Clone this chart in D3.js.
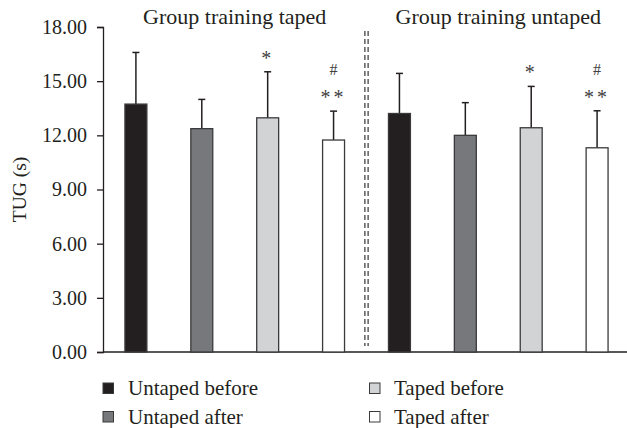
<!DOCTYPE html>
<meta charset="utf-8">
<body style="margin:0;background:#fff">
<script src="https://d3js.org/d3.v7.min.js"></script>
<script>

// data
var groups = ["Group training taped", "Group training untaped"];
var series = ["Untaped before", "Untaped after", "Taped before", "Taped after"];
var means  = [13.73, 12.37, 12.97, 11.74, 13.21, 12.00, 12.42, 11.31];
var errs   = [2.86, 1.62, 2.55, 1.60, 2.22, 1.81, 2.29, 2.05];
var marks  = [["", ""], ["", ""], ["*", ""], ["**", "#"], ["", ""], ["", ""], ["*", ""], ["**", "#"]];
var yTicks = [0, 3, 6, 9, 12, 15, 18];

var fills = ["#231f20", "#77787b", "#d1d3d4", "#ffffff"];
var font = "'Liberation Serif', 'DejaVu Serif', serif";

var width = 627, height = 428;
var svg = d3.select("body").append("svg")
    .attr("width", width)
    .attr("height", height)
    .style("font-family", font);

var bars = means.map(function(m, i) {
  return {id: i, mean: m, err: errs[i], s: i % 4, mark: marks[i]};
});

// scales
var x = d3.scaleBand()
    .domain(bars.map(function(d) { return d.id; }))
    .range([103, 630])
    .paddingInner(0.667)
    .paddingOuter(0.333);

var y = d3.scaleLinear()
    .domain([0, 18])
    .range([352, 27]);

// y axis
var yAxis = svg.append("g")
    .attr("transform", "translate(103,0)")
    .call(d3.axisLeft(y).tickValues(yTicks).tickSize(6).tickPadding(10)
      .tickFormat(d3.format(".2f")));
yAxis.select(".domain").attr("stroke", "#231f20").attr("stroke-width", 1.3);
yAxis.selectAll(".tick line").attr("stroke", "#231f20").attr("stroke-width", 1.3);
yAxis.selectAll(".tick text")
    .attr("fill", "#231f20")
    .style("font-size", "20px")
    .style("font-family", font);

// x axis line
svg.append("line")
    .attr("x1", 103).attr("x2", 627)
    .attr("y1", y(0)).attr("y2", y(0))
    .attr("stroke", "#231f20").attr("stroke-width", 1.3);

// y label
svg.append("text")
    .attr("transform", "translate(26," + y(9) + ") rotate(-90)")
    .attr("text-anchor", "middle")
    .attr("fill", "#231f20")
    .style("font-size", "19.5px")
    .text("TUG (s)");

// error bars
var eb = svg.append("g").selectAll("g")
    .data(bars)
  .enter().append("g")
    .attr("stroke", "#231f20")
    .attr("stroke-width", 1.5);
eb.append("line")
    .attr("x1", function(d) { return x(d.id) + x.bandwidth() / 2; })
    .attr("x2", function(d) { return x(d.id) + x.bandwidth() / 2; })
    .attr("y1", function(d) { return y(d.mean); })
    .attr("y2", function(d) { return y(d.mean + d.err); });
eb.append("line")
    .attr("x1", function(d) { return x(d.id) + x.bandwidth() / 2 - 3.5; })
    .attr("x2", function(d) { return x(d.id) + x.bandwidth() / 2 + 3.5; })
    .attr("y1", function(d) { return y(d.mean + d.err); })
    .attr("y2", function(d) { return y(d.mean + d.err); });

// bars
svg.append("g").selectAll("rect")
    .data(bars)
  .enter().append("rect")
    .attr("x", function(d) { return x(d.id); })
    .attr("y", function(d) { return y(d.mean); })
    .attr("width", x.bandwidth())
    .attr("height", function(d) { return y(0) - y(d.mean); })
    .attr("fill", function(d) { return fills[d.s]; })
    .attr("stroke", "#3a3a3c")
    .attr("stroke-width", 1.3);

// significance marks
var mk = svg.append("g").selectAll("g")
    .data(bars.filter(function(d) { return d.mark[0] !== ""; }))
  .enter().append("g")
    .attr("fill", "#414042")
    .attr("text-anchor", "middle");
mk.append("text")
    .attr("x", function(d) { return x(d.id) + x.bandwidth() / 2; })
    .attr("y", function(d) { return y(d.mean + d.err) - 7; })
    .style("font-size", "20px")
    .style("letter-spacing", "3px")
    .text(function(d) { return d.mark[0]; });
mk.append("text")
    .attr("x", function(d) { return x(d.id) + x.bandwidth() / 2; })
    .attr("y", function(d) { return y(d.mean + d.err) - 36; })
    .style("font-size", "16px")
    .text(function(d) { return d.mark[1]; });

// dashed divider between groups
var mid = (x(3) + x.bandwidth() + x(4)) / 2;
[-1.6, 1.6].forEach(function(o) {
  svg.append("line")
    .attr("x1", mid + o).attr("x2", mid + o)
    .attr("y1", 31).attr("y2", 346)
    .attr("stroke", "#231f20")
    .attr("stroke-width", 1.1)
    .attr("stroke-dasharray", "5,3");
});

// group titles
svg.selectAll(".gtitle")
    .data(groups)
  .enter().append("text")
    .attr("class", "gtitle")
    .attr("x", function(d, i) {
      return (x(i * 4) + x(i * 4 + 3) + x.bandwidth()) / 2;
    })
    .attr("y", 24)
    .attr("text-anchor", "middle")
    .attr("fill", "#231f20")
    .style("font-size", "22px")
    .text(function(d) { return d; });

// legend
var lg = svg.append("g").selectAll("g")
    .data(series)
  .enter().append("g")
    .attr("transform", function(d, i) {
      return "translate(" + (i < 2 ? 103 : 369.5) + "," + (i % 2 ? 411.5 : 383) + ")";
    });
lg.append("rect")
    .attr("width", 10.5).attr("height", 10.5)
    .attr("fill", function(d, i) { return fills[i]; })
    .attr("stroke", "#3a3a3c")
    .attr("stroke-width", 1);
lg.append("text")
    .attr("x", function(d, i) { return i < 2 ? 25 : 24.5; })
    .attr("y", 12)
    .attr("fill", "#231f20")
    .style("font-size", "21px")
    .text(function(d) { return d; });

</script>
</body>
